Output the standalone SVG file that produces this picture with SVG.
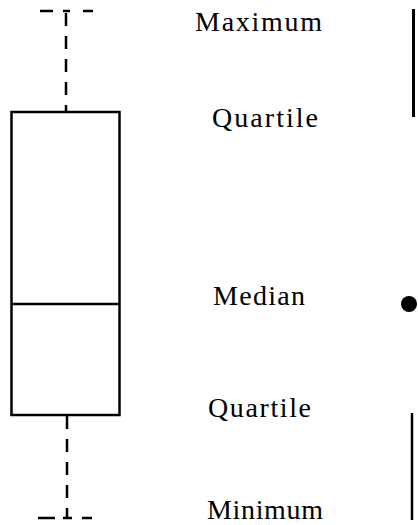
<svg xmlns="http://www.w3.org/2000/svg" width="418" height="525" viewBox="0 0 418 525">
<style>
.ln{stroke:#000;stroke-width:2.5;fill:none}
.ds{stroke:#000;stroke-width:2.5;fill:none;stroke-dasharray:13 10}
text{font-family:'Liberation Serif','DejaVu Serif',serif;font-size:28px;fill:#000}
</style>
<rect width="418" height="525" fill="#fff"/>
<g id="connectors">
<line class="ds" x1="66" y1="13" x2="66" y2="111"/>
<line class="ds" x1="67" y1="416" x2="67" y2="518"/>
<path class="ln" d="M40 11H53M63 11H70M83 11H93"/>
<path class="ln" d="M38 518H55M63 518H72M82 518H92"/>
<line x1="413.5" y1="9" x2="413.5" y2="117" stroke="#000" stroke-width="3"/>
<line x1="412" y1="413" x2="412" y2="520" stroke="#000" stroke-width="2.5"/>
</g>
<g id="box">
<rect class="ln" x="11.5" y="112" width="108" height="303"/>
<line class="ln" x1="11.5" y1="304" x2="119.5" y2="304"/>
</g>
<g id="dot"><circle cx="409" cy="304" r="8" fill="#000"/></g>
<g id="labels">
<text x="195" y="31" textLength="127" lengthAdjust="spacing">Maximum</text>
<text x="212" y="127" textLength="106" lengthAdjust="spacing">Quartile</text>
<text x="213" y="305" textLength="92" lengthAdjust="spacing">Median</text>
<text x="208" y="417" textLength="103" lengthAdjust="spacing">Quartile</text>
<text x="207" y="519" textLength="116" lengthAdjust="spacing">Minimum</text>
</g>
</svg>
